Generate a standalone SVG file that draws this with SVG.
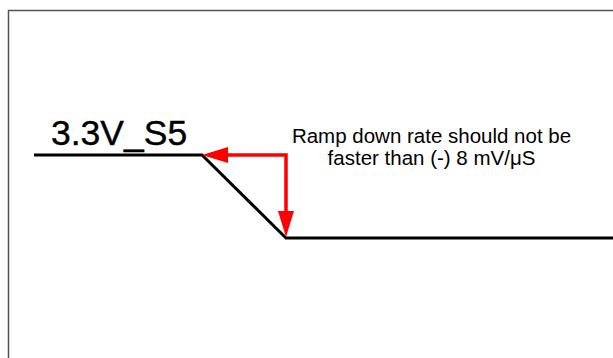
<svg xmlns="http://www.w3.org/2000/svg" width="613" height="358" viewBox="0 0 613 358">
<defs>
<style>
.frame{fill:none;stroke:#555;stroke-width:1.5}
.sig{fill:none;stroke:#000;stroke-width:3;stroke-linejoin:miter}
.red{fill:none;stroke:#ff0000;stroke-width:3.5}
.head{fill:#ff0000}
.t{font-family:"Liberation Sans",Arial,sans-serif;fill:#000}
</style>
</defs>
<rect width="613" height="358" fill="#fff"/>
<path class="frame" d="M8.5,358 V10.5 H613"/>
<g id="signal">
<polyline class="sig" points="34,155 202,155 286,238 613,238"/>
<text class="t" x="51" y="145" font-size="35.5" stroke="#000" stroke-width="0.4">3.3V_S5</text>
</g>
<g id="connectors">
<polyline class="red" points="226,155 286,155 286,212"/>
<polygon class="head" points="202,155 228,147 228,163"/>
<polygon class="head" points="286,237 278,211 294,211"/>
</g>
<g id="note">
<text class="t" x="431.5" y="143" font-size="20.5" text-anchor="middle">Ramp down rate should not be</text>
<text class="t" x="431.5" y="165" font-size="20.5" text-anchor="middle">faster than (-) 8 mV/μS</text>
</g>
</svg>
